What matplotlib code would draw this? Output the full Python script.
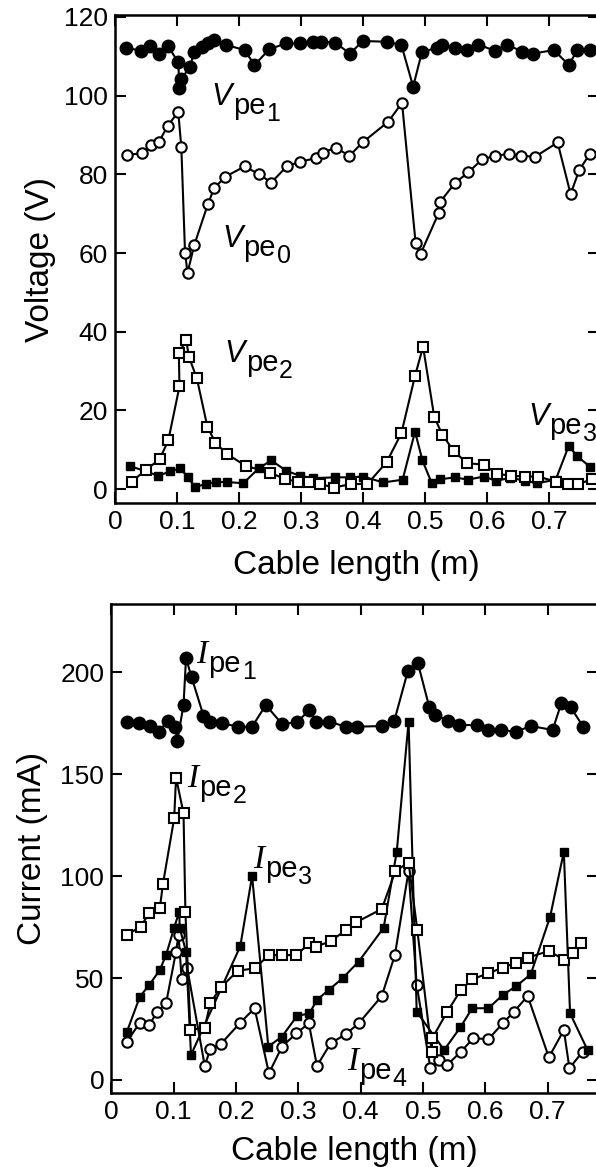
import matplotlib
matplotlib.use('Agg')
import matplotlib.pyplot as plt

plt.rcParams['font.family'] = ['Liberation Sans', 'DejaVu Sans']

# ---------------- Top panel data (Voltage) ----------------
vpe1_x = [0.018, 0.042, 0.056, 0.071, 0.085, 0.102, 0.104, 0.107, 0.121, 0.128, 0.141, 0.150,
          0.160, 0.179, 0.209, 0.225, 0.249, 0.276, 0.298, 0.319, 0.333, 0.355, 0.379, 0.400,
          0.438, 0.462, 0.481, 0.495, 0.519, 0.527, 0.549, 0.568, 0.586, 0.613, 0.632, 0.657,
          0.675, 0.708, 0.732, 0.746, 0.767]
vpe1_y = [112.2, 111.4, 112.7, 110.6, 112.7, 108.5, 102.0, 104.2, 107.4, 111.2, 112.4, 113.3,
          114.2, 112.9, 111.6, 107.8, 111.8, 113.3, 113.3, 113.7, 113.7, 113.5, 110.7, 113.9,
          113.7, 112.9, 102.3, 111.0, 112.2, 112.9, 112.2, 111.6, 113.0, 111.4, 113.0, 111.2,
          110.7, 111.6, 107.8, 111.6, 111.6]

vpe0_x = [0.020, 0.043, 0.058, 0.071, 0.085, 0.102, 0.107, 0.113, 0.117, 0.128, 0.150, 0.160,
          0.178, 0.209, 0.232, 0.252, 0.277, 0.298, 0.324, 0.335, 0.356, 0.378, 0.400, 0.441,
          0.463, 0.485, 0.493, 0.522, 0.524, 0.549, 0.570, 0.592, 0.613, 0.635, 0.655, 0.678,
          0.714, 0.735, 0.749, 0.766]
vpe0_y = [84.9, 85.4, 87.5, 88.3, 92.3, 95.9, 86.9, 60.0, 55.0, 62.1, 72.5, 76.5,
          79.4, 82.0, 80.1, 77.9, 82.0, 83.2, 84.1, 85.5, 86.8, 84.7, 88.2, 93.4,
          98.2, 62.5, 59.8, 70.1, 72.9, 77.9, 80.5, 83.8, 84.7, 85.2, 84.7, 84.5,
          88.1, 75.0, 81.1, 85.2]

vpe2_x = [0.027, 0.050, 0.072, 0.086, 0.104, 0.103, 0.115, 0.119, 0.132, 0.149, 0.162, 0.180,
          0.211, 0.250, 0.275, 0.295, 0.313, 0.331, 0.353, 0.381, 0.407, 0.438, 0.462, 0.484,
          0.497, 0.515, 0.528, 0.547, 0.568, 0.596, 0.616, 0.639, 0.661, 0.683, 0.711, 0.731,
          0.747, 0.770]
vpe2_y = [1.9, 4.9, 7.6, 12.4, 26.1, 34.6, 37.9, 33.7, 28.2, 15.9, 11.8, 9.0,
          5.9, 4.2, 2.5, 1.9, 1.9, 1.3, 0.4, 1.3, 1.3, 6.8, 14.2, 28.8,
          36.2, 18.4, 13.8, 9.6, 6.6, 6.2, 3.9, 3.4, 3.2, 3.2, 1.9, 1.3,
          1.3, 2.5]

vpe3_x = [0.024, 0.070, 0.089, 0.105, 0.117, 0.129, 0.146, 0.163, 0.181, 0.207, 0.232, 0.252,
          0.276, 0.298, 0.320, 0.355, 0.379, 0.400, 0.433, 0.464, 0.484, 0.496, 0.511, 0.524,
          0.549, 0.569, 0.595, 0.615, 0.638, 0.662, 0.681, 0.711, 0.732, 0.746, 0.767]
vpe3_y = [5.9, 3.4, 4.5, 5.3, 3.2, 0.5, 1.3, 1.8, 1.8, 1.5, 5.3, 7.3,
          4.7, 3.4, 2.8, 3.0, 3.0, 3.2, 1.7, 2.4, 14.6, 7.3, 1.5, 2.5,
          3.0, 2.4, 3.2, 2.1, 2.9, 2.1, 1.5, 2.4, 11.0, 8.3, 5.6]

# ---------------- Bottom panel data (Current) ----------------
ipe1_x = [0.026, 0.044, 0.062, 0.076, 0.091, 0.103, 0.106, 0.116, 0.120, 0.129, 0.148, 0.159,
          0.178, 0.203, 0.226, 0.248, 0.274, 0.298, 0.318, 0.329, 0.349, 0.376, 0.395, 0.435,
          0.454, 0.476, 0.492, 0.510, 0.520, 0.541, 0.558, 0.586, 0.605, 0.625, 0.649, 0.673,
          0.708, 0.722, 0.737, 0.757]
ipe1_y = [175.9, 175.1, 173.7, 170.9, 176.3, 173.4, 166.4, 184.0, 207.0, 197.6, 178.8, 175.9,
          175.1, 173.4, 173.4, 184.0, 174.7, 175.6, 181.6, 175.9, 175.9, 173.4, 173.4, 173.7,
          176.2, 200.9, 204.5, 183.2, 179.1, 176.2, 174.2, 174.2, 171.8, 171.8, 170.9, 173.7,
          171.8, 184.9, 182.9, 173.4]

ipe2_x = [0.025, 0.047, 0.061, 0.078, 0.083, 0.101, 0.104, 0.116, 0.119, 0.127, 0.150, 0.159,
          0.176, 0.203, 0.230, 0.253, 0.274, 0.297, 0.318, 0.328, 0.353, 0.376, 0.393, 0.434,
          0.456, 0.477, 0.491, 0.514, 0.515, 0.539, 0.561, 0.579, 0.605, 0.628, 0.650, 0.668,
          0.702, 0.727, 0.740, 0.753]
ipe2_y = [71.2, 75.2, 81.8, 84.3, 96.2, 128.4, 148.4, 130.9, 82.6, 24.5, 25.7, 37.8,
          45.5, 53.6, 54.8, 61.3, 61.3, 61.3, 67.1, 65.4, 68.2, 73.6, 77.4, 83.9,
          102.6, 106.7, 73.6, 13.9, 20.5, 33.5, 44.2, 49.4, 52.4, 55.1, 57.6, 60.0,
          63.3, 58.9, 62.5, 67.1]

ipe3_x = [0.025, 0.046, 0.061, 0.078, 0.088, 0.101, 0.109, 0.110, 0.120, 0.128, 0.207, 0.226,
          0.252, 0.274, 0.298, 0.318, 0.330, 0.349, 0.371, 0.397, 0.437, 0.458, 0.477, 0.490,
          0.534, 0.560, 0.579, 0.605, 0.628, 0.650, 0.673, 0.704, 0.726, 0.736, 0.764]
ipe3_y = [23.5, 40.9, 46.6, 54.0, 61.3, 74.7, 82.6, 74.5, 63.0, 12.3, 65.6, 100.1,
          16.4, 21.3, 31.4, 32.7, 39.3, 44.2, 49.9, 58.1, 74.7, 112.0, 175.9, 33.5,
          14.7, 25.8, 35.2, 35.2, 41.7, 46.1, 51.9, 80.1, 112.0, 32.7, 14.7]

ipe4_x = [0.025, 0.046, 0.061, 0.074, 0.088, 0.104, 0.108, 0.113, 0.122, 0.150, 0.159, 0.176,
          0.207, 0.230, 0.253, 0.274, 0.297, 0.317, 0.330, 0.352, 0.376, 0.397, 0.434, 0.455,
          0.477, 0.490, 0.512, 0.526, 0.539, 0.561, 0.581, 0.605, 0.629, 0.646, 0.668, 0.702,
          0.726, 0.735, 0.756]
ipe4_y = [18.8, 28.1, 27.0, 33.5, 37.6, 63.0, 71.2, 49.4, 54.8, 7.0, 15.1, 17.7,
          28.1, 35.2, 3.3, 16.4, 22.9, 27.8, 6.9, 18.0, 22.4, 27.8, 41.2, 61.3,
          102.6, 46.6, 5.7, 9.8, 7.4, 13.9, 20.5, 20.0, 28.1, 33.5, 41.2, 11.1,
          24.5, 5.7, 13.9]

x_ticks = [0, 0.1, 0.2, 0.3, 0.4, 0.5, 0.6, 0.7]
x_ticklabels = ['0', '0.1', '0.2', '0.3', '0.4', '0.5', '0.6', '0.7']
v_ticks = [0, 20, 40, 60, 80, 100, 120]
i_ticks = [0, 50, 100, 150, 200]

W, H = 596, 1167
fig = plt.figure(figsize=(W / 100, H / 100), dpi=100)

ax1 = fig.add_axes([115 / W, 1 - 503.3 / H, (598.5 - 115) / W, (503.3 - 15) / H])
ax2 = fig.add_axes([111.2 / W, 1 - 1093 / H, (597.5 - 111.2) / W, (1093 - 604) / H])

line_kw = dict(color='black', lw=1.5)
filled_circle = dict(marker='o', ms=9, mfc='black', mec='black', mew=1.0)
open_circle = dict(marker='o', ms=7.5, mfc='white', mec='black', mew=1.5)
open_square = dict(marker='s', ms=7.5, mfc='white', mec='black', mew=1.5)
filled_square = dict(marker='s', ms=6, mfc='black', mec='black', mew=1.0)

ax1.plot(vpe3_x, vpe3_y, **line_kw, **filled_square, zorder=3)
ax1.plot(vpe2_x, vpe2_y, **line_kw, **open_square, zorder=4)
ax1.plot(vpe0_x, vpe0_y, **line_kw, **open_circle, zorder=4)
ax1.plot(vpe1_x, vpe1_y, **line_kw, **filled_circle, zorder=5)

ax2.plot(ipe4_x, ipe4_y, **line_kw, **open_circle, zorder=3)
ax2.plot(ipe3_x, ipe3_y, **line_kw, **filled_square, zorder=4)
ax2.plot(ipe2_x, ipe2_y, **line_kw, **open_square, zorder=5)
ax2.plot(ipe1_x, ipe1_y, **line_kw, **filled_circle, zorder=6)

ax1.set_xlim(0, 0.78)
ax1.set_ylim(-3.6, 120.5)
ax2.set_xlim(0, 0.78)
ax2.set_ylim(-6.4, 233.6)

for ax, yt in ((ax1, v_ticks), (ax2, i_ticks)):
    ax.set_xticks(x_ticks)
    ax.set_xticklabels(x_ticklabels)
    ax.set_yticks(yt)
    ax.tick_params(direction='in', length=8, width=1.5, labelsize=19,
                   top=True, right=True, pad=5)
    for s in ax.spines.values():
        s.set_linewidth(1.8)

ax1.set_xlabel('Cable length (m)', fontsize=24, labelpad=11)
ax2.set_xlabel('Cable length (m)', fontsize=24, labelpad=9)
ax1.set_ylabel('Voltage (V)', fontsize=24)
ax2.set_ylabel('Current (mA)', fontsize=24)
ax1.yaxis.set_label_coords(-0.122, 0.5)
ax2.yaxis.set_label_coords(-0.130, 0.5)


def sub_label(ax, x, y, main, sub, num, serif=False, size=22):
    if serif:
        t0 = ax.text(x, y, main, fontsize=size + 2, family=['Liberation Serif'],
                     style='italic', ha='left', va='baseline')
    else:
        t0 = ax.text(x, y, main, fontsize=size, style='italic', ha='left', va='baseline')
    t1 = ax.annotate(sub, xy=(1, 0), xycoords=t0, xytext=(0.5, -6),
                     textcoords='offset points', fontsize=size - 1, ha='left', va='bottom')
    ax.annotate(num, xy=(1, 0), xycoords=t1, xytext=(0.5, -4),
                textcoords='offset points', fontsize=size - 4, ha='left', va='bottom')


sub_label(ax1, 0.156, 97.6, 'V', 'pe', '1')
sub_label(ax1, 0.173, 61.5, 'V', 'pe', '0')
sub_label(ax1, 0.177, 32.3, 'V', 'pe', '2')
sub_label(ax1, 0.667, 16.3, 'V', 'pe', '3')

sub_label(ax2, 0.137, 204.7, 'I', 'pe', '1', serif=True)
sub_label(ax2, 0.122, 143.8, 'I', 'pe', '2', serif=True)
sub_label(ax2, 0.228, 104.0, 'I', 'pe', '3', serif=True)
sub_label(ax2, 0.378, 4.9, 'I', 'pe', '4', serif=True)

fig.savefig('out.png', dpi=100)
